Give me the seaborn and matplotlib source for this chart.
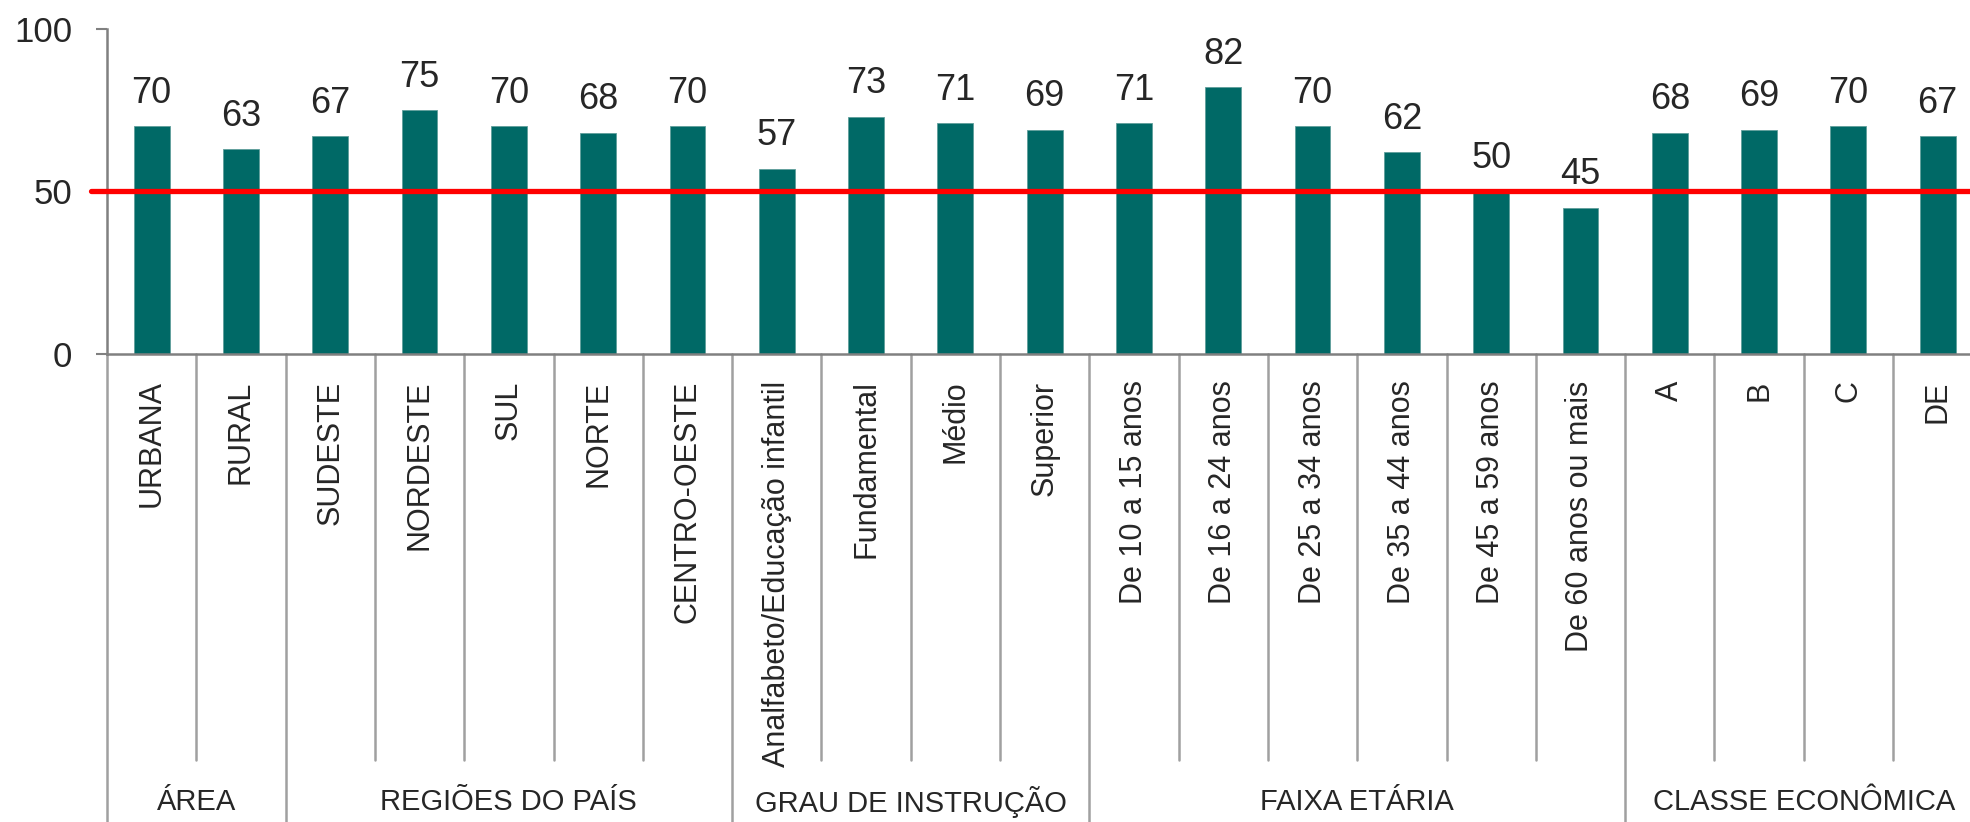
import matplotlib
matplotlib.use("Agg")
import matplotlib.pyplot as plt
import seaborn as sns
import pandas as pd

categorias = ["URBANA", "RURAL",
              "SUDESTE", "NORDESTE", "SUL", "NORTE", "CENTRO-OESTE",
              "Analfabeto/Educação infantil", "Fundamental", "Médio", "Superior",
              "De 10 a 15 anos", "De 16 a 24 anos", "De 25 a 34 anos",
              "De 35 a 44 anos", "De 45 a 59 anos", "De 60 anos ou mais",
              "A", "B", "C", "DE"]
valores = [70, 63, 67, 75, 70, 68, 70, 57, 73, 71, 69,
           71, 82, 70, 62, 50, 45, 68, 69, 70, 67]
grupos = ["ÁREA", "REGIÕES DO PAÍS", "GRAU DE INSTRUÇÃO", "FAIXA ETÁRIA", "CLASSE ECONÔMICA"]
tamanhos = [2, 5, 4, 6, 4]
referencia = 50

df = pd.DataFrame({"cat": categorias, "val": valores})

sns.set_style("white")
plt.rcParams['font.family'] = ['Liberation Sans', 'DejaVu Sans']

W, H = 1970, 822
fig = plt.figure(figsize=(W / 100, H / 100), dpi=100)
slot = 89.3
ax = fig.add_axes([107 / W, (H - 354) / H, len(categorias) * slot / W, 325 / H])

sns.barplot(data=df, x="cat", y="val", color="#006966", width=0.4,
            saturation=1, ax=ax, edgecolor="#5f9e9b", linewidth=0.6)
ax.set_ylim(0, 100)
ax.set_xlim(-0.5, len(categorias) - 0.5)
ax.set_yticks([0, 50, 100])
ax.set_ylabel("")
ax.set_xlabel("")
ax.tick_params(axis="y", labelsize=25, length=8, width=1.5, color="#808080", direction="out", left=True, pad=17)
ax.tick_params(axis="x", labelsize=22, length=0, pad=19, labelrotation=90)
for lbl in ax.get_xticklabels():
    lbl.set_verticalalignment("top")

sns.despine(ax=ax, top=True, right=True)
for s in ["left", "bottom"]:
    ax.spines[s].set_color("#808080")
    ax.spines[s].set_linewidth(1.8)

# rotulos de valor
for i, v in enumerate(valores):
    ax.text(i, v + 4.8, str(v), ha="center", va="bottom", fontsize=26)

# linha de referencia
ax.plot([-0.68, len(categorias)], [referencia, referencia], color="#ff0000", lw=3.8, clip_on=False, zorder=5)

# divisorias abaixo do eixo
px = 3.25
inicio_grupos = [0]
for t in tamanhos:
    inicio_grupos.append(inicio_grupos[-1] + t)
for i in range(len(categorias) + 1):
    y_fim = -(822 - 354) / px if i in inicio_grupos else -(760 - 354) / px
    ax.plot([i - 0.5, i - 0.5], [0, y_fim], color="#a0a0a0", lw=1.8, clip_on=False)

for g, a, t in zip(grupos, inicio_grupos, tamanhos):
    ax.text(a + t / 2 - 0.5, -(802 - 354) / px, g, ha="center", va="center", fontsize=21)

fig.savefig("out.png", dpi=100)
